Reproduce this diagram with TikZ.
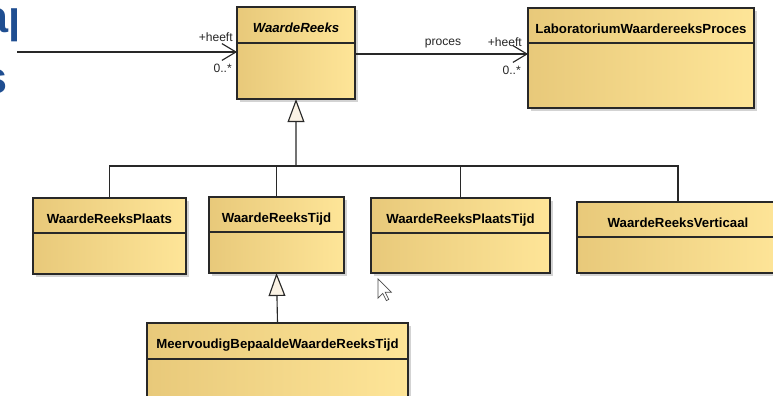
\documentclass[tikz,border=0pt]{standalone}
\usepackage{fontspec}
\setmainfont{Liberation Sans}
\usetikzlibrary{positioning,arrows.meta,shadows}
\definecolor{kopdonker}{RGB}{232,201,122}
\definecolor{koplicht}{RGB}{254,229,152}
\definecolor{rand}{RGB}{40,40,40}
\definecolor{driehoek}{RGB}{250,242,228}
\definecolor{dia}{RGB}{31,78,145}
\tikzset{
    kop/.style = {
        draw=rand,
        shape=rectangle,
        left color=kopdonker,
        right color=koplicht,
        minimum height=0.875cm,
        line width=0.9pt,
        inner sep=0pt,
        outer sep=0pt,
        anchor=north west,
        text height=1.1em,
        text depth=0pt,
        font=\fontsize{9.4}{11}\selectfont\bfseries,
        drop shadow={shadow xshift=0.08cm, shadow yshift=-0.08cm, opacity=0.35, fill=gray}
    },
    romp/.style = {
        draw=rand,
        shape=rectangle,
        left color=kopdonker,
        right color=koplicht,
        line width=0.9pt,
        inner sep=0pt,
        outer sep=0pt,
        drop shadow={shadow xshift=0.08cm, shadow yshift=-0.08cm, opacity=0.35, fill=gray}
    },
    rol/.style = {
        inner sep=0pt,
        font=\fontsize{8.6}{10}\selectfont,
        text=black!85
    },
    lijn/.style = {
        draw=rand,
        line width=0.8pt
    },
    assoc/.style = {
        lijn,
        -{Straight Barb[length=0.35cm, width=0.42cm]}
    },
    gen/.style = {
        lijn,
        -{Triangle[length=0.575cm, width=0.42cm, fill=driehoek]}
    },
}
\begin{document}
\begin{tikzpicture}
    \useasboundingbox (0,0) rectangle (19.325,-9.875);
    \clip (0,0) rectangle (19.325,-9.875);

    % stukjes van de dia
    \begin{scope}
        \clip (0,0) rectangle (0.4,-2.6);
        \node[anchor=base west, inner sep=0pt, text=dia, font=\fontsize{32}{36}\selectfont\bfseries] (titel) at (-0.42,-0.825) {ap};
        \node[anchor=base east, inner sep=0pt, text=dia, font=\fontsize{32}{36}\selectfont\bfseries] (titel2) at (0.2,-2.325) {s};
    \end{scope}

    % klassen
    \node[kop, minimum width=2.95cm, minimum height=0.9cm] (wrKop) at (5.925,-0.175) {\itshape WaardeReeks};
    \node[romp, minimum width=2.95cm, minimum height=1.4cm, below=0pt of wrKop] (wr) {};

    \node[kop, minimum width=5.65cm] (labKop) at (13.2,-0.2) {LaboratoriumWaardereeksProces};
    \node[romp, minimum width=5.65cm, minimum height=1.625cm, below=0pt of labKop] (lab) {};

    \node[kop, minimum width=3.825cm] (wrpKop) at (0.825,-4.95) {WaardeReeksPlaats};
    \node[romp, minimum width=3.825cm, minimum height=1.025cm, below=0pt of wrpKop] (wrp) {};

    \node[kop, minimum width=3.375cm] (wrtKop) at (5.225,-4.925) {WaardeReeksTijd};
    \node[romp, minimum width=3.375cm, minimum height=1.025cm, below=0pt of wrtKop] (wrt) {};

    \node[kop, minimum width=4.475cm] (wrptKop) at (9.275,-4.95) {WaardeReeksPlaatsTijd};
    \node[romp, minimum width=4.475cm, minimum height=1.0cm, below=0pt of wrptKop] (wrpt) {};

    \node[kop, minimum width=5.05cm] (wrvKop) at (14.425,-5.05) {WaardeReeksVerticaal};
    \node[romp, minimum width=5.05cm, minimum height=0.9cm, below=0pt of wrvKop] (wrv) {};

    \node[kop, minimum width=6.525cm, minimum height=0.9cm] (mbwKop) at (3.675,-8.075) {MeervoudigBepaaldeWaardeReeksTijd};
    \node[romp, minimum width=6.525cm, minimum height=2.0cm, below=0pt of mbwKop] (mbw) {};

    % associaties
    \coordinate (links) at (0.425,-1.3);
    \path[assoc] (links) -- (links -| wr.west);
    \node[rol, anchor=south east] (heeft1) at (5.825,-1.05) {+heeft};
    \node[rol, anchor=east] (mult1) at (5.8,-1.7) {0..*};

    \coordinate (proc) at ([yshift=-0.275cm]wr.north east);
    \path[assoc] (proc) -- (proc -| lab.west);
    \node[rol] (proces) at (11.075,-1.1) {proces};
    \node[rol, anchor=east] (heeft2) at (13.05,-1.05) {+heeft};
    \node[rol, anchor=east] (mult2) at (13.025,-1.75) {0..*};

    % generalisaties
    \coordinate (bus) at (7.4,-4.15);
    \path[lijn] (wrpKop.north) |- (bus);
    \path[lijn] (wrtKop.north) |- (bus);
    \path[lijn] (wrptKop.north) |- (bus);
    \path[lijn] (wrvKop.north) |- (bus);
    \path[gen] (bus) -- (wr.south);
    \path[gen] (mbwKop.north) -- (wrt.south);

    % muisaanwijzer
    \draw[fill=white, draw=gray!60!black, line width=0.5pt, shift={(9.45,-6.975)}, x=0.03cm, y=-0.03cm]
        (0,0) -- (0,16) -- (4,12) -- (7,18) -- (9,17) -- (6,11) -- (11,11) -- cycle;
\end{tikzpicture}
\end{document}
